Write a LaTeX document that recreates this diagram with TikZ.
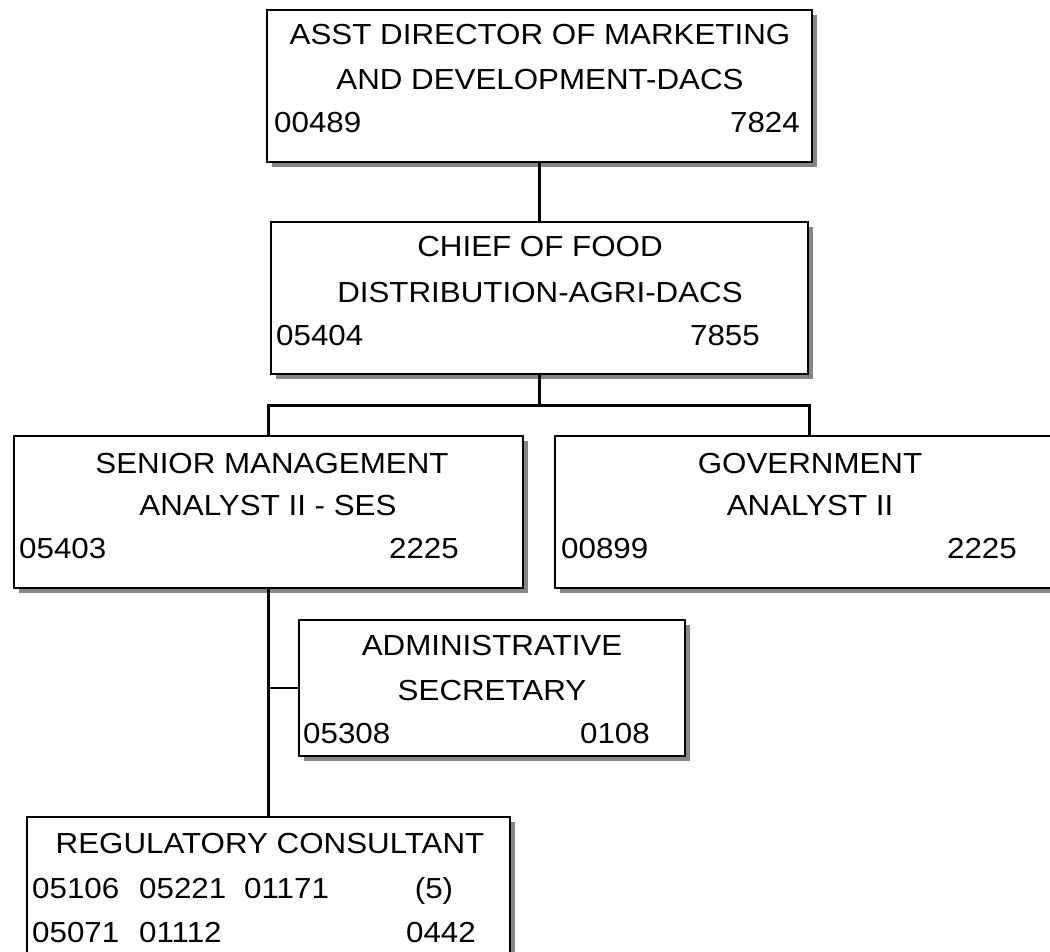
\documentclass[tikz,border=0pt]{standalone}
\usepackage{fontspec}
\usepackage{tikz}
\usetikzlibrary{shadows}

\newfontfamily\orgfont[FakeStretch=1.08]{Liberation Sans}

\tikzset{
  post/.style={draw, line width=2.6pt, fill=white, rectangle, inner sep=0pt,
    drop shadow={shadow xshift=5pt, shadow yshift=-5pt, fill=black!48, opacity=1}},
  txt/.style={inner sep=0pt, anchor=base, font=\orgfont\fontsize{29}{44}\selectfont},
  lft/.style={txt, anchor=base west},
  rgt/.style={txt, anchor=base east},
  link/.style={draw, line width=2.3pt}
}

\begin{document}
\begin{tikzpicture}[x=1pt, y=-1pt]
		\useasboundingbox (0,0) rectangle (1050,952);
		\clip (0,0) rectangle (1050,952);

		% boxes
		\node[post, minimum width=545, minimum height=152] (dir) at (539.5,86) {};
		\node[post, minimum width=537, minimum height=152] (chief) at (539.5,298) {};
		\node[post, minimum width=509, minimum height=152] (senior) at (268.5,512) {};
		\node[post, minimum width=509, minimum height=152] (gov) at (809.5,512) {};
		\node[post, minimum width=386, minimum height=136] (admin) at (492,688) {};
		\node[post, minimum width=483, minimum height=160] (reg) at (268.5,897) {};

		% lines between the boxes
		\coordinate (bus) at (539.5,405.5);
		\draw[link] (dir.south) -- (chief.north);
		\draw[link] (chief.south) -- (bus);
		\draw[link] (senior.north) |- (bus) -| (gov.north);
		\draw[link] (senior.south) -- (reg.north);
		\draw[link] (admin.west) -- (admin.west -| senior.south);

		% texts
		\node[txt] (dir-a) at (540,45) {ASST DIRECTOR OF MARKETING};
		\node[txt] (dir-b) at (540,90) {AND DEVELOPMENT-DACS};
		\node[lft] (dir-id) at (274,133) {00489};
		\node[rgt] (dir-cl) at (800,133) {7824};

		\node[txt] (chief-a) at (540,257) {CHIEF OF FOOD};
		\node[txt] (chief-b) at (540,302) {DISTRIBUTION-AGRI-DACS};
		\node[lft] (chief-id) at (276,345) {05404};
		\node[rgt] (chief-cl) at (760,345) {7855};

		\node[txt] (senior-a) at (272,473) {SENIOR MANAGEMENT};
		\node[txt] (senior-b) at (268,515) {ANALYST II - SES};
		\node[lft] (senior-id) at (19,558) {05403};
		\node[rgt] (senior-cl) at (459,558) {2225};

		\node[txt] (gov-a) at (810,473) {GOVERNMENT};
		\node[txt] (gov-b) at (810,515) {ANALYST II};
		\node[lft] (gov-id) at (561,558) {00899};
		\node[rgt] (gov-cl) at (1017,558) {2225};

		\node[txt] (admin-a) at (492,655) {ADMINISTRATIVE};
		\node[txt] (admin-b) at (492,700) {SECRETARY};
		\node[lft] (admin-id) at (303,743) {05308};
		\node[rgt] (admin-cl) at (650,743) {0108};

		\node[txt] (reg-a) at (270,853) {REGULATORY CONSULTANT};
		\node[lft] (reg-p1) at (32,898) {05106};
		\node[lft] (reg-p2) at (139,898) {05221};
		\node[lft] (reg-p3) at (244,898) {01171};
		\node[txt] (reg-n) at (434,898) {(5)};
		\node[lft] (reg-p4) at (32,942) {05071};
		\node[lft] (reg-p5) at (139,942) {01112};
		\node[rgt] (reg-cl) at (476,942) {0442};
\end{tikzpicture}
\end{document}
